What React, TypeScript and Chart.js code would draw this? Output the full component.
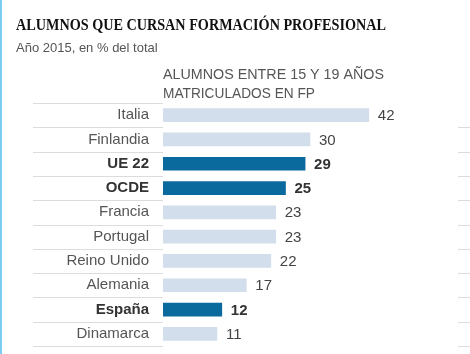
import React, { useEffect, useRef } from "react";
import { Chart, registerables } from "chart.js";

Chart.register(...registerables);

const categories = ["Italia", "Finlandia", "UE 22", "OCDE", "Francia", "Portugal", "Reino Unido", "Alemania", "España", "Dinamarca"];
const values = [42, 30, 29, 25, 23, 23, 22, 17, 12, 11];
const highlighted = [false, false, true, true, false, false, false, false, true, false];
const title = "ALUMNOS QUE CURSAN FORMACIÓN PROFESIONAL";
const subtitle = "Año 2015, en % del total";
const headingLines = ["ALUMNOS ENTRE 15 Y 19 AÑOS", "MATRICULADOS EN FP"];

const LIGHT = "#d3deec";
const DARK = "#0a6a9e";
const SANS = "'Liberation Sans', Arial, sans-serif";

const decorPlugin = {
  id: "decor",
  beforeDraw(chart: any) {
    const { ctx, chartArea, scales } = chart;
    const y = scales.y;
    ctx.save();
    ctx.fillStyle = "#7ccbf0";
    ctx.fillRect(0, 0, 2, chart.height);
    ctx.strokeStyle = "#dcdcdc";
    ctx.lineWidth = 1;
    const n = categories.length;
    for (let i = 0; i <= n; i++) {
      const yy = Math.round(y.getPixelForValue(i - 0.5)) + 0.5;
      ctx.beginPath();
      ctx.moveTo(33, yy);
      ctx.lineTo(chartArea.left, yy);
      if (i > 0) {
        ctx.moveTo(chartArea.right + 1, yy);
        ctx.lineTo(chart.width, yy);
      }
      ctx.stroke();
    }
    ctx.textBaseline = "alphabetic";
    ctx.textAlign = "left";
    ctx.fillStyle = "#111";
    ctx.font = "bold 16px 'Liberation Serif', 'Times New Roman', serif";
    ctx.fillText(title, 16, 30, 370);
    ctx.fillStyle = "#555";
    ctx.font = "13px " + SANS;
    ctx.fillText(subtitle, 16, 52);
    ctx.font = "15px " + SANS;
    ctx.fillText(headingLines[0], chartArea.left, 79, 221);
    ctx.fillText(headingLines[1], chartArea.left, 98, 152);
    ctx.restore();
  },
  afterDatasetsDraw(chart: any) {
    const { ctx } = chart;
    const meta = chart.getDatasetMeta(0);
    ctx.save();
    ctx.textBaseline = "middle";
    ctx.textAlign = "left";
    meta.data.forEach((bar: any, i: number) => {
      const hl = highlighted[i];
      ctx.font = (hl ? "bold " : "") + "15px " + SANS;
      ctx.fillStyle = hl ? "#333" : "#444";
      ctx.fillText(String(values[i]), bar.x + 9, bar.y + 1);
    });
    ctx.restore();
  },
};

export default function App() {
  const ref = useRef<HTMLCanvasElement>(null);
  useEffect(() => {
    if (!ref.current) return;
    const chart = new Chart(ref.current, {
      type: "bar",
      data: {
        labels: categories,
        datasets: [
          {
            data: values,
            backgroundColor: highlighted.map((h) => (h ? DARK : LIGHT)),
            borderWidth: 0,
            barThickness: 13,
          },
        ],
      },
      options: {
        indexAxis: "y",
        responsive: false,
        animation: false,
        layout: { padding: { top: 103, bottom: 8, left: 0, right: 13 } },
        plugins: { legend: { display: false }, tooltip: { enabled: false }, title: { display: false } },
        scales: {
          x: { min: 0, max: 60, display: false, grid: { display: false } },
          y: {
            grid: { display: false, drawTicks: false },
            border: { display: false },
            afterFit: (s: any) => {
              s.width = 163;
              s.paddingTop = 0;
              s.paddingBottom = 0;
            },
            ticks: {
              padding: 14,
              color: (c: any) => (highlighted[c.index] ? "#333" : "#555"),
              font: (c: any) => ({
                family: SANS,
                size: 15,
                weight: highlighted[c.index] ? "bold" : "normal",
              }),
            },
          },
        },
      },
      plugins: [decorPlugin],
    });
    return () => chart.destroy();
  }, []);
  return (
    <div style={{ position: "absolute", left: 0, top: 0, width: 470, height: 354, background: "#fff" }}>
      <canvas ref={ref} width={470} height={354} style={{ display: "block" }} />
    </div>
  );
}
